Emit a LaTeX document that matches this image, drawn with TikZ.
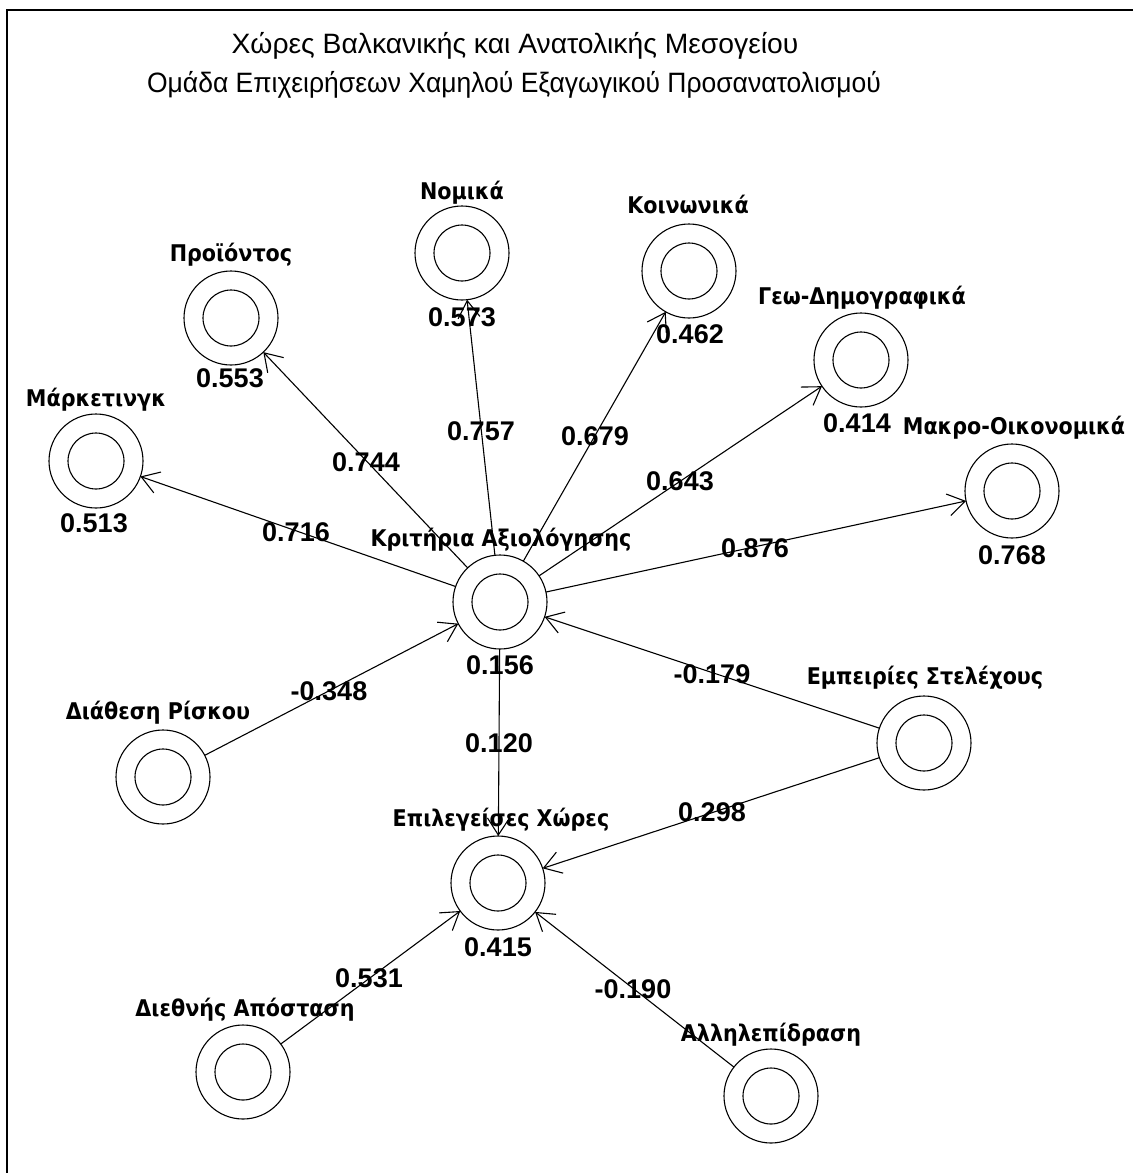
\documentclass[tikz,border=0pt]{standalone}
\usepackage{graphicx}
\usepackage{fontspec}
\setmainfont{DejaVu Sans}
\newfontfamily\lblfont{DejaVu Sans Condensed}
\newfontfamily\numfont{Liberation Sans}
\newfontfamily\ttlfont{Liberation Sans}
\usetikzlibrary{arrows.meta}

\begin{document}
\begin{tikzpicture}[x=1pt,y=-1pt,
  ring/.style={circle,draw,line width=1.1pt,minimum size=94pt,inner sep=0pt,outer sep=0pt,
    path picture={\draw[line width=1.1pt] (path picture bounding box.center) circle (28pt);}},
  lbl/.style={font=\lblfont\bfseries\fontsize{23}{27}\selectfont,inner sep=0pt,
    text height=17pt,text depth=5pt},
  num/.style={font=\numfont\bfseries\fontsize{27}{30}\selectfont,inner sep=0pt,
    text height=19.5pt,text depth=0pt},
  ttl/.style={font=\ttlfont\fontsize{28}{32}\selectfont,inner sep=0pt,
    text height=20pt,text depth=6pt},
  link/.style={line width=1.1pt,-{Straight Barb[length=17pt,width=22pt,line width=1.1pt]}}
]
\useasboundingbox (0,0) rectangle (1133,1173);
\fill[white] (0,0) rectangle (1133,1173);

% frame
\draw[line width=2.5pt] (7,1173) -- (7,10) -- (1133,10);

% heading
\node[ttl] (title1) at (515,46) {\scalebox{1.01}[1]{Χώρες Βαλκανικής και Ανατολικής Μεσογείου}};
\node[ttl] (title2) at (514,85) {\scalebox{0.946}[1]{Ομάδα Επιχειρήσεων Χαμηλού Εξαγωγικού Προσανατολισμού}};

% factors
\node[ring] (krit)  at (500,602)  {};
\node[ring] (mark)  at (96,461)   {};
\node[ring] (prod)  at (231,318)  {};
\node[ring] (nom)   at (462,253)  {};
\node[ring] (koin)  at (689,271)  {};
\node[ring] (geo)   at (861,360)  {};
\node[ring] (makro) at (1012,491) {};
\node[ring] (risk)  at (163,777)  {};
\node[ring] (emp)   at (924,743)  {};
\node[ring] (epil)  at (498,883)  {};
\node[ring] (dist)  at (243,1072) {};
\node[ring] (allil) at (771,1096) {};

% factor names
\node[lbl] (krit-t)  at (501,540)  {Κριτήρια Αξιολόγησης};
\node[lbl] (mark-t)  at (96,400)   {Μάρκετινγκ};
\node[lbl] (prod-t)  at (231,255)  {Προϊόντος};
\node[lbl] (nom-t)   at (462,193)  {Νομικά};
\node[lbl] (koin-t)  at (688,207)  {Κοινωνικά};
\node[lbl] (geo-t)   at (862,298)  {Γεω-Δημογραφικά};
\node[lbl] (makro-t) at (1014,428) {Μακρο-Οικονομικά};
\node[lbl] (risk-t)  at (158,713)  {Διάθεση Ρίσκου};
\node[lbl] (emp-t)   at (925,678)  {Εμπειρίες Στελέχους};
\node[lbl] (epil-t)  at (501,820)  {Επιλεγείσες Χώρες};
\node[lbl] (dist-t)  at (245,1010) {Διεθνής Απόσταση};
\node[lbl] (allil-t) at (771,1035) {Αλληλεπίδραση};

% factor values
\node[num] (krit-v)  at (500,665)  {0.156};
\node[num] (mark-v)  at (94,523)   {0.513};
\node[num] (prod-v)  at (230,378)  {0.553};
\node[num] (nom-v)   at (462,317)  {0.573};
\node[num] (koin-v)  at (690,334)  {0.462};
\node[num] (geo-v)   at (857,423)  {0.414};
\node[num] (makro-v) at (1012,555) {0.768};
\node[num] (epil-v)  at (498,947)  {0.415};

% paths
\draw[link] (krit) -- (mark);
\draw[link] (krit) -- (prod);
\draw[link] (krit) -- (nom);
\draw[link] (krit) -- (koin);
\draw[link] (krit) -- (geo);
\draw[link] (krit) -- (makro);
\draw[link] (krit) -- (epil);
\draw[link] (risk) -- (krit);
\draw[link] (emp) -- (krit);
\draw[link] (emp) -- (epil);
\draw[link] (dist) -- (epil);
\draw[link] (allil) -- (epil);

% path coefficients
\node[num] (c-mark)  at (296,532) {0.716};
\node[num] (c-prod)  at (366,462) {0.744};
\node[num] (c-nom)   at (481,431) {0.757};
\node[num] (c-koin)  at (595,436) {0.679};
\node[num] (c-geo)   at (680,481) {0.643};
\node[num] (c-makro) at (755,548) {0.876};
\node[num] (c-risk)  at (329,691) {-0.348};
\node[num] (c-emp1)  at (712,674) {-0.179};
\node[num] (c-epil)  at (499,743) {0.120};
\node[num] (c-emp2)  at (712,812) {0.298};
\node[num] (c-dist)  at (369,978) {0.531};
\node[num] (c-allil) at (633,989) {-0.190};
\end{tikzpicture}
\end{document}
